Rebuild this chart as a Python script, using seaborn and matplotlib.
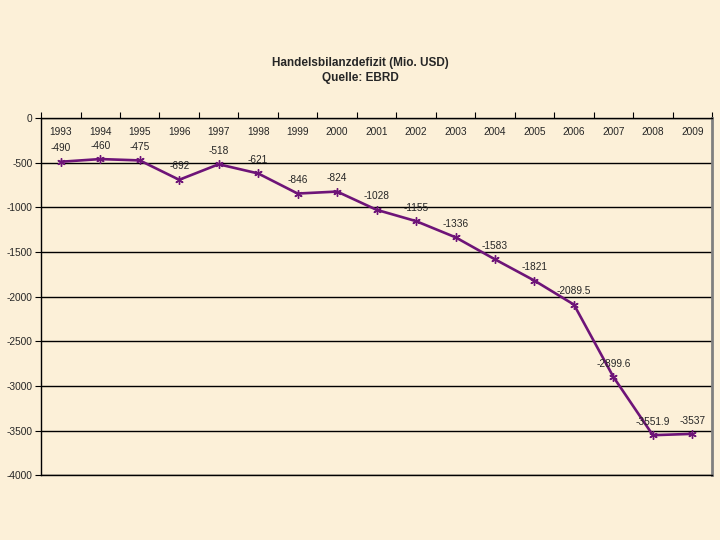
import numpy as np
import pandas as pd
import matplotlib
matplotlib.use("Agg")
from matplotlib import pyplot as plt
import seaborn as sns

years = ["1993", "1994", "1995", "1996", "1997", "1998", "1999", "2000", "2001",
         "2002", "2003", "2004", "2005", "2006", "2007", "2008", "2009"]
deficit = [-490, -460, -475, -692, -518, -621, -846, -824, -1028,
           -1155, -1336, -1583, -1821, -2089.5, -2899.6, -3551.9, -3537]
value_labels = ["-490", "-460", "-475", "-692", "-518", "-621", "-846", "-824", "-1028",
                "-1155", "-1336", "-1583", "-1821", "-2089.5", "-2899.6", "-3551.9", "-3537"]
y_ticks = [0, -500, -1000, -1500, -2000, -2500, -3000, -3500, -4000]

df = pd.DataFrame({"pos": np.arange(len(years)), "year": years, "deficit": deficit})

bg = "#fcf0d8"
purple = "#6e1478"

sns.set_style("white")
plt.rcParams["font.family"] = ["Liberation Sans", "DejaVu Sans"]

fig = plt.figure(figsize=(7.2, 5.4), dpi=100, facecolor=bg)
ax = fig.add_axes([0.057, 0.12, 0.932, 0.6615])
ax.set_facecolor(bg)

sns.lineplot(data=df, x="pos", y="deficit", ax=ax, color=purple, lw=1.9,
             marker=(6, 2, 0), markersize=6, markeredgecolor=purple,
             markeredgewidth=1.0)

for i, row in df.iterrows():
    ax.annotate(value_labels[i], (row["pos"], row["deficit"]), xytext=(0, 6),
                textcoords="offset points", ha="center", va="bottom", fontsize=7.3)

ax.set_xlim(-0.5, len(years) - 0.5)
ax.set_ylim(-4000, 0)
ax.set_yticks(y_ticks)
ax.set_yticklabels([str(v) for v in y_ticks], fontsize=7.3)
ax.yaxis.grid(True, color="black", lw=1)
ax.set_axisbelow(True)

# category boundaries as ticks on the top (zero) line, years inside the plot
ax.set_xticks(np.arange(len(years) + 1) - 0.5)
ax.set_xticklabels([])
ax.set_xticks(df["pos"], minor=True)
ax.set_xticklabels(years, minor=True, fontsize=7.3)
ax.tick_params(axis="x", which="major", top=True, bottom=False, direction="out",
               length=4, color="black")
ax.tick_params(axis="x", which="minor", top=True, labeltop=True, bottom=False,
               labelbottom=False, length=0, pad=-14)
ax.tick_params(axis="y", direction="out", length=4, left=True, color="black", pad=2)

ax.set_xlabel("")
ax.set_ylabel("")
for side in ["left", "top", "bottom"]:
    ax.spines[side].set_color("black")
    ax.spines[side].set_linewidth(1)
ax.spines["right"].set_color("#808080")
ax.spines["right"].set_linewidth(2)

fig.text(0.5, 0.869, "Handelsbilanzdefizit (Mio. USD)\nQuelle: EBRD", ha="center",
         va="center", fontsize=8.5, fontweight="bold", linespacing=1.35)

fig.savefig("out.png", dpi=100, facecolor=bg)
